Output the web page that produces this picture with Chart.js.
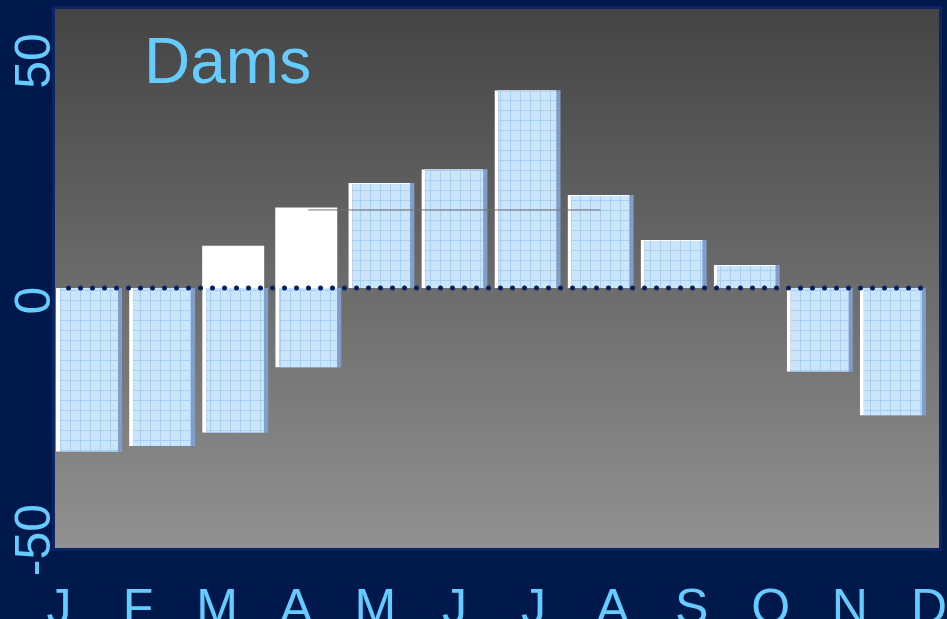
<!DOCTYPE html>
<html>
<head>
<meta charset="utf-8">
<title>Dams</title>
<script src="https://cdn.jsdelivr.net/npm/chart.js@4.4.1/dist/chart.umd.min.js"></script>
<style>
    body { margin: 0; background: #00194d; overflow: hidden; }
    #wrap { position: relative; width: 947px; height: 619px; }
    #panel {
        position: absolute; left: 52px; top: 6px; width: 884px; height: 539px;
        border: 3px solid #0b2466;
        background: linear-gradient(#444444, #919191);
    }
    #chart { position: absolute; left: 0; top: 0; }
    #title {
        position: absolute; left: 144px; top: 29px;
        font: 64px/64px "Liberation Sans", Arial, sans-serif; color: #66ccff;
    }
</style>
</head>
<body>
<div id="wrap">
    <div id="panel"></div>
    <canvas id="chart" width="947" height="619"></canvas>
    <div id="title">Dams</div>
</div>
<script>
var months = ['J', 'F', 'M', 'A', 'M', 'J', 'J', 'A', 'S', 'O', 'N', 'D'];
var damLevels = [-34.2, -33.0, -30.2, -16.6, 21.9, 24.8, 41.3, 19.4, 10.0, 4.8, -17.5, -26.6];
var whiteLevels = [null, null, 8.8, 16.8, null, null, null, null, null, null, null, null];
var markLine = [null, null, null, 16.3, 16.3, 16.3, 16.3, 16.3, null, null, null, null];
var yTicks = [-50, 0, 50];

Chart.defaults.font.family = '"Liberation Sans", Arial, sans-serif';

var canvas = document.getElementById('chart');
var ctx = canvas.getContext('2d');

// light blue graph-paper fill for the bars
var tile = document.createElement('canvas');
tile.width = 10;
tile.height = 10;
var t = tile.getContext('2d');
t.fillStyle = '#d4eaff';
t.fillRect(0, 0, 10, 10);
t.fillStyle = '#c2dffd';
for (var i = 0; i < 10; i++) {
    for (var j = 0; j < 10; j++) {
        if ((i + j) % 2 === 0) t.fillRect(i, j, 1, 1);
    }
}
t.fillStyle = '#a7d0f7';
t.fillRect(0, 0, 10, 1);
t.fillRect(0, 0, 1, 10);
var gridFill = ctx.createPattern(tile, 'repeat');

// dotted zero line, drawn over the bars
var zeroDots = {
    id: 'zeroDots',
    afterDatasetsDraw: function (chart) {
        var c = chart.ctx;
        var area = chart.chartArea;
        var y = chart.scales.y.getPixelForValue(0);
        c.save();
        c.strokeStyle = '#0b1f5e';
        c.lineWidth = 5;
        c.lineCap = 'round';
        c.setLineDash([0, 12]);
        c.beginPath();
        c.moveTo(area.left + 16, y);
        c.lineTo(area.right - 6, y);
        c.stroke();
        c.restore();
    }
};

var damsChart = new Chart(ctx, {
    type: 'bar',
    data: {
        labels: months,
        datasets: [{
            type: 'line',
            data: markLine,
            stack: 'line',
            borderColor: '#6f6f6f',
            borderWidth: 1,
            pointRadius: 0,
            order: 0
        }, {
            data: damLevels,
            stack: 'a',
            backgroundColor: gridFill,
            borderColor: '#ffffff',
            borderWidth: { left: 4, top: 1 },
            order: 1
        }, {
            data: whiteLevels,
            stack: 'a',
            backgroundColor: '#ffffff',
            borderWidth: 0,
            order: 2
        }, {
            data: damLevels,
            stack: 'b',
            backgroundColor: '#809ec9',
            borderWidth: 0,
            order: 3
        }]
    },
    options: {
        responsive: false,
        animation: false,
        devicePixelRatio: 1,
        layout: { padding: { top: 9, right: 17.6, bottom: 0, left: 0 } },
        datasets: {
            bar: { categoryPercentage: 0.1095, barPercentage: 15.5 }
        },
        plugins: {
            legend: { display: false },
            tooltip: { enabled: false }
        },
        scales: {
            x: { display: false },
            xl: {
                type: 'linear',
                position: 'bottom',
                offset: false,
                min: -0.082,
                max: 11.005,
                afterBuildTicks: function (axis) {
                    axis.ticks = months.map(function (m, i) { return { value: i }; });
                },
                afterFit: function (axis) {
                    axis.height = 71;
                    axis.paddingLeft = 0;
                    axis.paddingRight = 0;
                },
                grid: { display: false },
                border: { display: false },
                ticks: {
                    color: '#66ccff',
                    font: { size: 50 },
                    padding: 24,
                    autoSkip: false,
                    maxRotation: 0,
                    callback: function (v, i) { return months[i]; }
                }
            },
            y: {
                stacked: true,
                min: -54.28,
                max: 58.25,
                afterBuildTicks: function (axis) {
                    axis.ticks = yTicks.map(function (v) { return { value: v }; });
                },
                afterFit: function (axis) {
                    axis.width = 52.5;
                    axis.paddingTop = 0;
                    axis.paddingBottom = 0;
                },
                grid: { display: false },
                border: { display: false },
                ticks: {
                    color: '#66ccff',
                    font: { size: 50 },
                    minRotation: 90,
                    maxRotation: 90,
                    crossAlign: 'center',
                    padding: -28,
                    labelOffset: 12.5
                }
            }
        }
    },
    plugins: [zeroDots]
});
</script>
</body>
</html>
